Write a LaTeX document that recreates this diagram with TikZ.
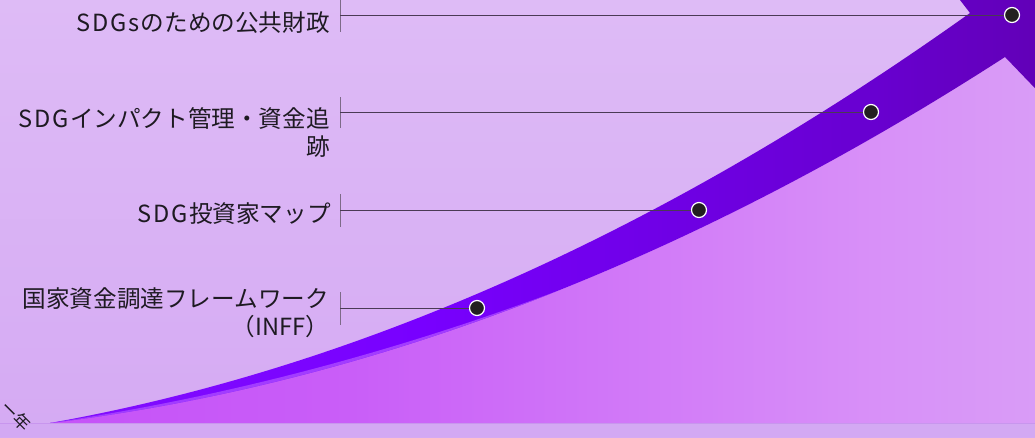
\documentclass[tikz,border=0pt]{standalone}
\usepackage{fontspec}
\newfontfamily\jp{Noto Sans CJK JP}
\definecolor{bgtop}{HTML}{DEBBF6}
\definecolor{bgbot}{HTML}{D5AAF3}
\definecolor{strip}{HTML}{D3A9F3}
\definecolor{stripline}{HTML}{C896EE}
\definecolor{uA}{HTML}{C040F8}
\definecolor{uB}{HTML}{C95EF8}
\definecolor{uC}{HTML}{D890F8}
\definecolor{uD}{HTML}{DAAEF5}
\definecolor{uE}{HTML}{D4A9F1}
\definecolor{bA}{HTML}{9020FF}
\definecolor{bB}{HTML}{7800FF}
\definecolor{bC}{HTML}{6800D0}
\definecolor{bD}{HTML}{560088}
\definecolor{bE}{HTML}{4A0068}
\definecolor{sliver}{HTML}{A23CFF}
\definecolor{dotc}{HTML}{231F20}
\definecolor{leader}{HTML}{4B3A55}
\definecolor{tickc}{HTML}{7D6A88}
\definecolor{txt}{HTML}{1E1A22}
\pgfdeclarehorizontalshading{undershade}{100bp}{color(0bp)=(uA); color(40bp)=(uB); color(66bp)=(uC); color(86bp)=(uD); color(100bp)=(uE)}
\pgfdeclarehorizontalshading{bandshade}{100bp}{color(0bp)=(bA); color(43bp)=(bB); color(65bp)=(bC); color(88bp)=(bD); color(100bp)=(bE)}
\newcommand{\lk}{\kern1.8pt}
\tikzset{
  dotnode/.style={circle, fill=dotc, draw=white, line width=1.2pt, minimum size=15pt, inner sep=0pt},
  leaderline/.style={draw=leader, line width=0.9pt},
  tickline/.style={draw=tickc, line width=1pt},
  lbl/.style={font=\jp\fontsize{23.6}{27.5}\selectfont, text=txt, align=right, inner sep=0pt, anchor=base east},
}
\begin{document}
\begin{tikzpicture}[x=1pt,y=-1pt]
\useasboundingbox (0,0) rectangle (1035,437);
\clip (0,0) rectangle (1035,437);
% background
\shade[top color=bgtop, bottom color=bgbot] (0,0) rectangle (1035,437);
% area under the curve
\shade[shading=undershade] (50,423) .. controls (368.3,384.5) and (686.7,262.5) .. (1005,57) -- (1055,109) -- (1055,423) -- (50,423) -- cycle;
% bottom strip
\fill[strip] (0,423) rectangle (1035,437);
\draw[stripline, line width=0.8pt] (0,423) -- (1035,423);
% arrow band
\def\bandpath{(50,423) .. controls (356.7,368.3) and (663.3,231.7) .. (970,13) -- (950,-13) -- (1080,-45) -- (1055,109) -- (1005,57) .. controls (686.7,262.5) and (368.3,384.5) .. (50,423) -- cycle}
\shade[shading=bandshade] \bandpath;
% lighter sliver at the start of the band
\begin{scope}
\clip \bandpath;
\fill[sliver] (50,423) .. controls (220,398.1) and (390,353.7) .. (560,290) -- (560,437) -- (50,437) -- cycle;
\end{scope}
% bottom-left rotated text
\node[font=\jp\fontsize{17}{20}\selectfont, text=txt, rotate=-45, inner sep=0pt] (yr) at (16,416) {ー年};
% ticks
\coordinate (t1a) at (340,0);   \coordinate (t1b) at (340,32);  \coordinate (t1) at (340,15);
\coordinate (t2a) at (340,97);  \coordinate (t2b) at (340,128); \coordinate (t2) at (340,112);
\coordinate (t3a) at (340,194); \coordinate (t3b) at (340,227); \coordinate (t3) at (340,210);
\coordinate (t4a) at (340,292); \coordinate (t4b) at (340,325); \coordinate (t4) at (340,308);
\draw[tickline] (t1a) -- (t1b);
\draw[tickline] (t2a) -- (t2b);
\draw[tickline] (t3a) -- (t3b);
\draw[tickline] (t4a) -- (t4b);
% dots
\node[dotnode] (d1) at (1012,15) {};
\node[dotnode] (d2) at (871,112) {};
\node[dotnode] (d3) at (699,210) {};
\node[dotnode] (d4) at (477,308) {};
% leader lines
\draw[leaderline] (t1) -- (d1);
\draw[leaderline] (t2) -- (d2);
\draw[leaderline] (t3) -- (d3);
\draw[leaderline] (t4) -- (d4);
% labels
\node[lbl] (l1) at (330,31) {S\lk D\lk G\lk s\lk のための公共財政};
\node[lbl] (l2) at (330,155) {S\lk D\lk G\lk インパクト管理・資金追\\跡};
\node[lbl] (l3) at (331,222.5) {S\lk D\lk G\lk 投資家マップ};
\node[lbl] (l4) at (329,335) {国家資金調達フレームワーク\\（INFF）};
\end{tikzpicture}
\end{document}
